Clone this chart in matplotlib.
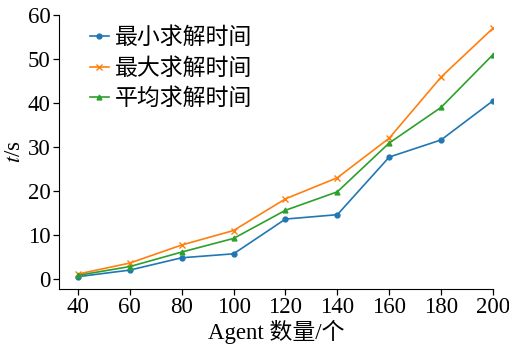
import matplotlib
matplotlib.use("Agg")
import matplotlib.pyplot as plt

plt.rcParams["font.family"] = ["Liberation Serif", "Noto Sans CJK SC"]
plt.rcParams["mathtext.fontset"] = "stix"

agents = [40, 60, 80, 100, 120, 140, 160, 180, 200]
t_min = [0.5, 2.0, 4.8, 5.7, 13.6, 14.6, 27.7, 31.6, 40.5]
t_max = [1.1, 3.6, 7.7, 11.0, 18.2, 23.0, 32.0, 45.9, 57.0]
t_avg = [0.8, 2.8, 6.1, 9.2, 15.6, 19.8, 30.9, 39.0, 51.0]

fig = plt.figure(figsize=(5.09, 3.52), dpi=100)
ax = fig.add_axes([59 / 509, 63 / 352, 434 / 509, 274 / 352])

ax.plot(agents, t_min, color="#1f77b4", marker="o", ms=3.5, lw=1.2, label="最小求解时间")
ax.plot(agents, t_max, color="#ff7f0e", marker="x", ms=4.5, lw=1.2, label="最大求解时间")
ax.plot(agents, t_avg, color="#2ca02c", marker="^", ms=3.5, lw=1.2, label="平均求解时间")

ax.set_xlim(32.7, 200)
ax.set_ylim(-2.3, 60)
ax.set_xticks(agents)
ax.set_yticks(range(0, 61, 10))
for s in ("top", "right"):
    ax.spines[s].set_visible(False)
ax.tick_params(direction="out", length=4, width=0.9, labelsize=16.5, pad=2)
ax.set_xlabel("Agent 数量/个", fontsize=16.5, labelpad=1)
ax.set_ylabel("$t$/s", fontsize=16.5, labelpad=2)
ax.legend(loc="upper left", bbox_to_anchor=(0.023, 1.03), frameon=False,
          fontsize=16.5, handlelength=0.85, handletextpad=0.26, labelspacing=0.38)

fig.savefig("out.png", dpi=100)
